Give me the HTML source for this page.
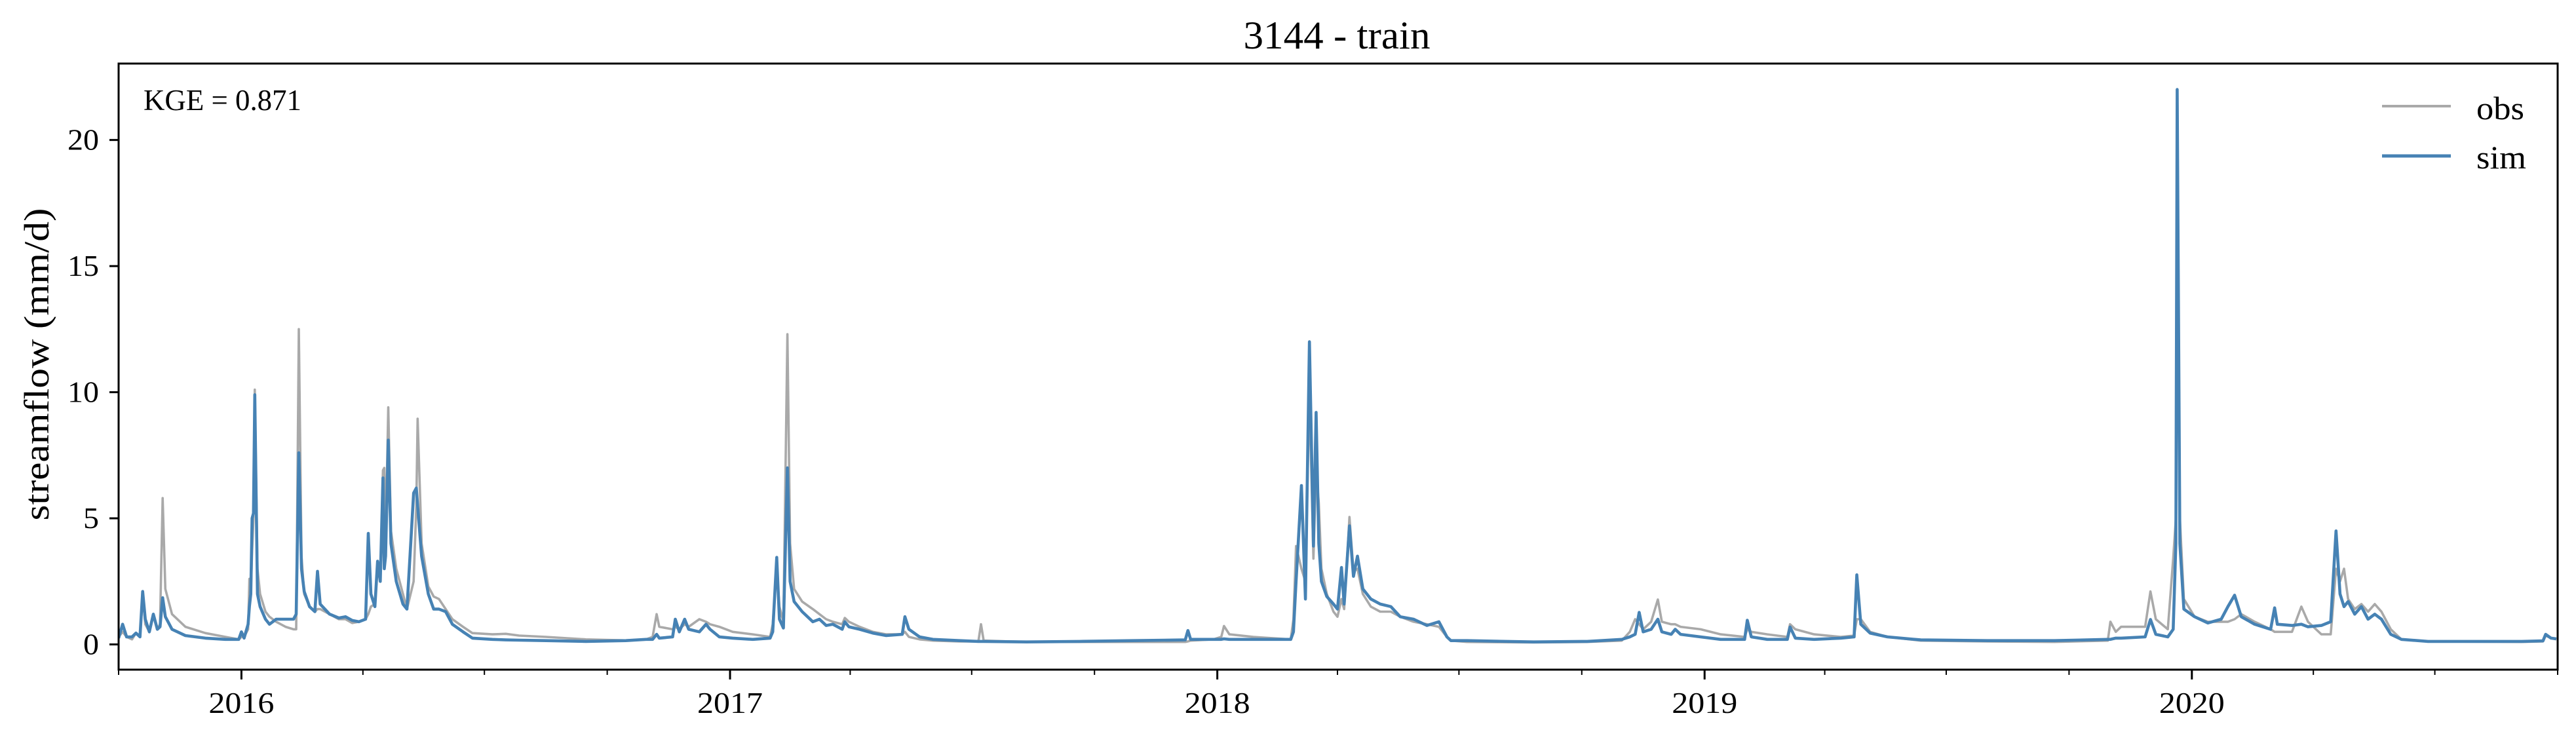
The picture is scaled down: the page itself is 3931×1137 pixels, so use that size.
<!DOCTYPE html>
<html><head><meta charset="utf-8"><style>
html,body{margin:0;padding:0;background:#fff;}
svg text{font-family:"Liberation Serif",serif;fill:#000;}
</style></head><body>
<svg id="chart" xmlns="http://www.w3.org/2000/svg" width="3931" height="1132" viewBox="0 0 3931 1132">
<rect x="0" y="0" width="3931" height="1132" fill="#fff"/>
<text x="2040" y="74" font-size="60" text-anchor="middle" textLength="285" lengthAdjust="spacingAndGlyphs">3144 - train</text>
<text transform="translate(74,556) rotate(-90)" font-size="54" text-anchor="middle" textLength="477" lengthAdjust="spacingAndGlyphs">streamflow (mm/d)</text>
<g id="plot"></g>
<text x="219" y="168" font-size="45" textLength="241" lengthAdjust="spacingAndGlyphs">KGE = 0.871</text>
<g>
<line x1="3635" y1="162" x2="3740" y2="162" stroke="#a9a9a9" stroke-width="4"/>
<text x="3779" y="182" font-size="50" textLength="73" lengthAdjust="spacingAndGlyphs">obs</text>
<line x1="3635" y1="238" x2="3740" y2="238" stroke="#4682b4" stroke-width="5"/>
<text x="3779" y="257" font-size="50" textLength="76" lengthAdjust="spacingAndGlyphs">sim</text>
</g>
</svg>
<script>
const days = [0,3,6,10,13,16,18,20,23,26,29,31,33,35,40,50,65,80,90,92,94,97,98,99,100,101,102,104,106,110,113,118,125,131,133,135,137,139,143,147,149,151,158,165,170,175,180,185,187,189,192,194,196,198,199,200,202,204,208,213,216,221,223,224,227,232,236,240,245,250,258,265,280,290,300,320,350,380,395,400,403,405,415,417,420,424,427,435,440,443,450,460,475,488,490,493,495,498,501,503,506,512,520,525,530,535,542,544,547,555,565,575,587,589,592,600,610,630,644,646,648,680,720,760,799,801,803,820,826,828,832,850,878,880,882,886,889,892,895,897,899,901,905,910,913,916,918,922,925,928,932,938,945,953,960,970,980,989,995,998,1010,1060,1100,1126,1132,1136,1139,1142,1148,1153,1156,1163,1166,1170,1185,1200,1218,1220,1223,1235,1250,1252,1256,1270,1290,1300,1302,1305,1312,1325,1350,1400,1450,1490,1492,1496,1500,1518,1522,1526,1535,1539,1541,1542,1544,1547,1555,1565,1575,1580,1585,1590,1600,1612,1615,1617,1628,1635,1640,1650,1657,1661,1664,1667,1670,1675,1680,1685,1690,1695,1702,1710,1730,1800,1816,1818,1822,1826];
const obsValues = [0.3,0.5,0.3,0.2,0.45,0.3,2.0,0.8,0.5,1.2,0.6,0.8,5.8,2.2,1.2,0.7,0.45,0.3,0.2,0.3,0.3,0.6,2.6,2.0,3.7,5.0,10.1,3.0,2.0,1.3,1.1,0.9,0.7,0.6,0.6,12.5,3.5,2.0,1.5,1.3,1.4,1.4,1.2,1.0,1.0,0.85,0.9,1.0,1.2,1.5,1.6,3.0,2.5,6.9,7.0,4.0,9.4,4.5,3.0,2.0,1.4,2.5,5.5,8.95,4.0,2.3,1.9,1.8,1.4,1.0,0.7,0.45,0.4,0.42,0.35,0.3,0.2,0.16,0.2,0.3,1.2,0.7,0.6,0.7,0.6,0.8,0.7,1.0,0.9,0.8,0.7,0.5,0.4,0.3,0.8,3.0,1.5,0.9,12.3,4.0,2.2,1.7,1.4,1.2,1.0,0.9,0.8,1.05,0.9,0.7,0.5,0.4,0.4,0.5,0.3,0.2,0.15,0.12,0.12,0.8,0.15,0.1,0.1,0.1,0.1,0.12,0.15,0.2,0.3,0.73,0.4,0.3,0.2,1.0,3.9,3.0,2.5,10.0,3.4,7.0,5.6,3.0,2.0,1.3,1.1,1.8,1.4,5.05,2.9,3.0,2.0,1.5,1.3,1.3,1.1,0.9,0.8,0.7,0.3,0.15,0.1,0.08,0.1,0.15,0.5,1.0,0.8,0.6,0.9,1.78,0.9,0.8,0.8,0.7,0.6,0.4,0.3,0.6,0.5,0.4,0.3,0.8,0.6,0.4,0.3,0.35,1.0,1.0,0.5,0.3,0.15,0.12,0.1,0.15,0.9,0.5,0.7,0.7,2.1,1.0,0.6,3.4,5.0,21.5,5.0,1.8,1.1,0.9,0.9,0.9,1.0,1.2,0.9,0.6,0.5,0.5,0.5,1.5,0.9,0.4,0.4,3.0,2.5,3.0,1.8,1.4,1.6,1.3,1.6,1.3,0.6,0.2,0.12,0.1,0.12,0.35,0.25,0.2];
const simValues = [0.25,0.8,0.3,0.3,0.45,0.3,2.1,1.0,0.5,1.2,0.6,0.7,1.85,1.1,0.6,0.35,0.25,0.2,0.2,0.5,0.25,0.8,1.5,2.0,5.0,5.2,9.9,2.0,1.5,1.0,0.8,1.0,1.0,1.0,1.2,7.6,3.0,2.1,1.5,1.3,2.9,1.6,1.2,1.05,1.1,0.95,0.9,1.0,4.4,2.0,1.5,3.3,2.5,6.6,3.0,3.5,8.1,4.0,2.5,1.6,1.4,6.0,6.2,5.5,3.5,2.0,1.4,1.4,1.3,0.8,0.5,0.25,0.2,0.18,0.17,0.15,0.12,0.15,0.2,0.2,0.4,0.25,0.3,1.0,0.5,1.0,0.6,0.5,0.8,0.6,0.3,0.25,0.2,0.25,0.5,3.45,1.0,0.65,7.0,2.5,1.7,1.3,0.9,1.0,0.75,0.8,0.6,0.9,0.7,0.6,0.45,0.35,0.4,1.1,0.6,0.3,0.2,0.15,0.12,0.12,0.12,0.1,0.12,0.15,0.18,0.55,0.2,0.2,0.2,0.22,0.2,0.2,0.2,0.5,2.5,6.3,1.8,12.0,3.9,9.2,4.0,2.5,1.9,1.6,1.4,3.05,1.6,4.7,2.7,3.5,2.2,1.8,1.6,1.5,1.1,1.0,0.75,0.9,0.3,0.15,0.15,0.1,0.12,0.2,0.3,0.4,1.27,0.5,0.6,1.0,0.5,0.4,0.6,0.4,0.3,0.2,0.2,0.96,0.3,0.2,0.2,0.69,0.25,0.2,0.25,0.3,2.76,0.8,0.45,0.3,0.18,0.15,0.15,0.2,0.2,0.25,0.25,0.3,0.99,0.4,0.3,0.6,4.0,22.0,4.0,1.4,1.1,0.85,1.0,1.5,1.95,1.1,0.8,0.6,1.45,0.8,0.75,0.8,0.7,0.75,0.9,4.5,2.0,1.5,1.7,1.2,1.5,1.0,1.2,1.0,0.4,0.2,0.12,0.12,0.14,0.4,0.25,0.22];
const yTicks = [0,5,10,15,20];
const yearLabels = ["2016","2017","2018","2019","2020"];

const NS = "http://www.w3.org/2000/svg";
const L = 181, R = 3903, T = 97, B = 1022;
const start = Date.UTC(2015,9,1), end = Date.UTC(2020,9,1);
const DAY = 86400000;
const yMin = -1.0, yMax = 23.03;
function xDate(ms){ return L + (ms - start) / (end - start) * (R - L); }
function xDay(d){ return xDate(start + d * DAY); }
function yVal(v){ return B - (v - yMin) / (yMax - yMin) * (B - T); }
const plot = document.getElementById('plot');
function mk(tag, attrs){ const e = document.createElementNS(NS, tag); for (const k in attrs) e.setAttribute(k, attrs[k]); return e; }

const clip = mk('clipPath', {id:'clipArea'});
clip.appendChild(mk('rect', {x:L, y:T, width:R-L, height:B-T}));
plot.appendChild(clip);

function series(vals, color, w, name){
  let d = '';
  for (let i = 0; i < days.length; i++) d += (i ? 'L' : 'M') + xDay(days[i]).toFixed(1) + ' ' + yVal(vals[i]).toFixed(1);
  const p = mk('path', {d:d, fill:'none', stroke:color, 'stroke-width':w, 'stroke-linejoin':'round', 'clip-path':'url(#clipArea)'});
  
  
  plot.appendChild(p);
}
series(obsValues, '#a9a9a9', 3.6, 'obs-line');
series(simValues, '#4682b4', 4.6, 'sim-line');

const frame = mk('rect', {x:L, y:T, width:R-L, height:B-T, fill:'none', stroke:'#000', 'stroke-width':3});


plot.appendChild(frame);

yTicks.forEach(v => {
  const y = yVal(v);
  const t = mk('line', {x1:L-14, y1:y, x2:L, y2:y, stroke:'#000', 'stroke-width':3});
  
  
  plot.appendChild(t);
  const s = String(v);
  const lb = mk('text', {x:L-30, y:y+15, 'font-size':46, 'text-anchor':'end', textLength: s.length * 24, lengthAdjust:'spacingAndGlyphs'});
  lb.textContent = s;
  
  
  plot.appendChild(lb);
});

for (let yr = 2015; yr <= 2020; yr++) {
  for (let m = 0; m < 12; m += 3) {
    const ms = Date.UTC(yr, m, 1);
    if (ms < start || ms > end) continue;
    const x = xDate(ms);
    const major = (m === 0);
    const t = mk('line', {x1:x, y1:B, x2:x, y2:B + (major ? 15 : 8), stroke:'#000', 'stroke-width':major ? 3 : 2});
    
    
    plot.appendChild(t);
  }
}
yearLabels.forEach(lbl => {
  const x = xDate(Date.UTC(parseInt(lbl,10), 0, 1));
  const tx = mk('text', {x:x, y:1088, 'font-size':46, 'text-anchor':'middle', textLength:100, lengthAdjust:'spacingAndGlyphs'});
  tx.textContent = lbl;
  
  
  plot.appendChild(tx);
});
</script>
</body></html>
